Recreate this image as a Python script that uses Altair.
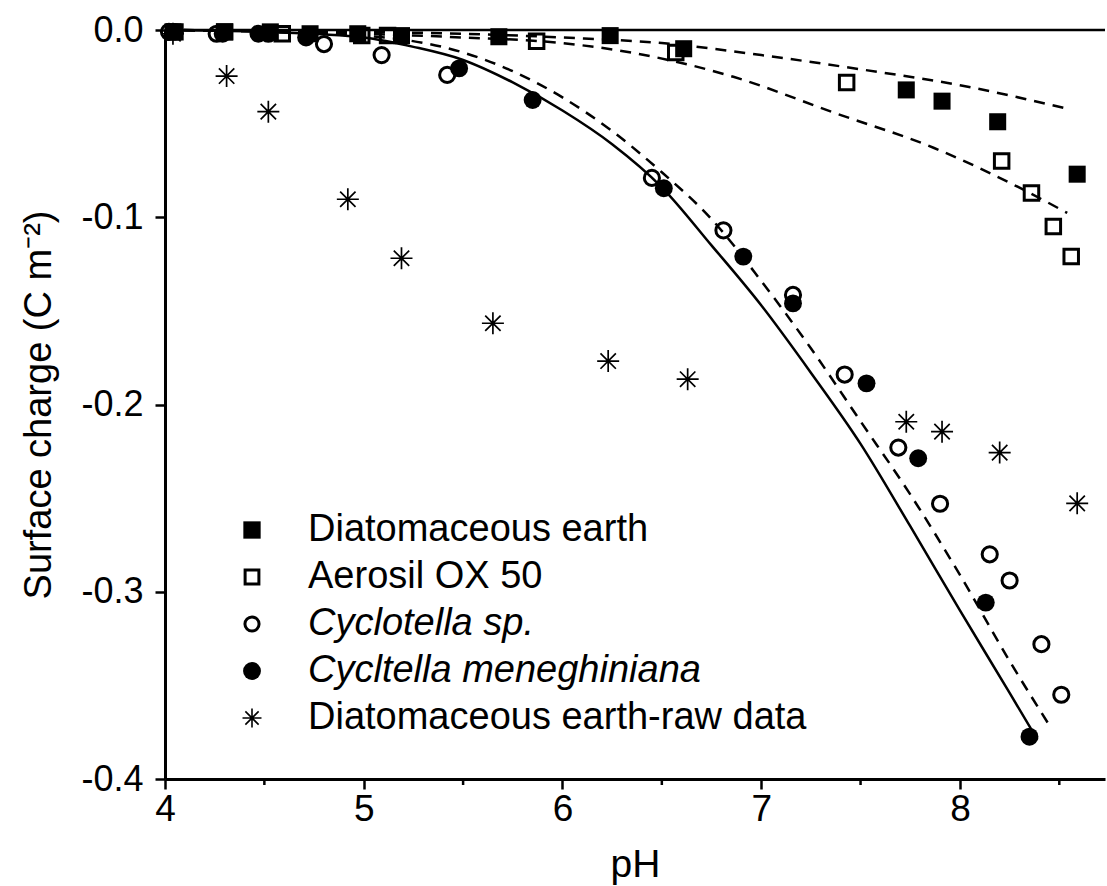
import altair as alt
import pandas as pd

# ---------------- data ----------------
de_ph = [4.04, 4.30, 4.53, 4.73, 4.97, 5.19, 5.68, 6.24, 6.61, 7.73, 7.91, 8.19, 8.59]
de_q = [-0.001, -0.001, -0.001, -0.002, -0.002, -0.003, -0.0036, -0.003, -0.010, -0.032, -0.038, -0.049, -0.077]

aero_ph = [4.05, 4.30, 4.59, 4.99, 5.12, 5.87, 6.57, 7.43, 8.21, 8.36, 8.47, 8.56]
aero_q = [-0.001, -0.001, -0.002, -0.003, -0.003, -0.006, -0.012, -0.028, -0.070, -0.087, -0.105, -0.121]

cyc_ph = [4.02, 4.26, 4.52, 4.80, 5.09, 5.42, 6.45, 6.81, 7.16, 7.42, 7.69, 7.90, 8.15, 8.25, 8.41, 8.51]
cyc_q = [-0.001, -0.002, -0.002, -0.0075, -0.0134, -0.024, -0.079, -0.107, -0.1415, -0.184, -0.223, -0.253, -0.280, -0.294, -0.328, -0.355]

men_ph = [4.05, 4.29, 4.47, 4.71, 5.48, 5.85, 6.51, 6.91, 7.16, 7.53, 7.79, 8.13, 8.35]
men_q = [-0.001, -0.002, -0.002, -0.004, -0.0205, -0.0374, -0.0845, -0.121, -0.146, -0.1887, -0.2287, -0.3058, -0.3774]

raw_ph = [4.04, 4.31, 4.52, 4.92, 5.19, 5.65, 6.23, 6.63, 7.73, 7.91, 8.20, 8.59]
raw_q = [-0.002, -0.0246, -0.0436, -0.0904, -0.1219, -0.1566, -0.1768, -0.1865, -0.2092, -0.2145, -0.2257, -0.2528]

# model curves
fit_de_ph = [4.0, 5.0, 5.5, 6.0, 6.5, 7.0, 7.5, 8.0, 8.54]
fit_de_q = [0.0, -0.001, -0.002, -0.004, -0.007, -0.0134, -0.021, -0.0295, -0.042]

fit_aero_ph = [4.0, 4.5, 5.0, 5.5, 6.0, 6.36, 6.86, 7.37, 7.87, 8.29, 8.54]
fit_aero_q = [0.0, -0.0005, -0.002, -0.004, -0.007, -0.0123, -0.025, -0.0443, -0.063, -0.0837, -0.0977]

fit_men_ph = [4.0, 4.5, 5.0, 5.25, 5.5, 5.75, 6.0, 6.25, 6.5, 6.75, 7.0, 7.25, 7.5, 7.75, 8.0, 8.25, 8.39]
fit_men_q = [0.0, -0.001, -0.004, -0.009, -0.016, -0.028, -0.043, -0.061, -0.084, -0.115, -0.147, -0.183, -0.221, -0.265, -0.310, -0.354, -0.379]

fit_cyc_ph = [4.0, 4.5, 5.0, 5.5, 5.75, 6.0, 6.25, 6.5, 6.75, 7.0, 7.25, 7.5, 7.75, 8.0, 8.25, 8.46]
fit_cyc_q = [0.0, -0.001, -0.003, -0.012, -0.022, -0.036, -0.054, -0.076, -0.101, -0.134, -0.170, -0.209, -0.248, -0.291, -0.337, -0.373]

x_ticks = [4, 5, 6, 7, 8]
x_minor = [4.5, 5.5, 6.5, 7.5, 8.5]
y_ticks = [0.0, -0.1, -0.2, -0.3, -0.4]

legend_labels = ["Diatomaceous earth", "Aerosil OX 50", "Cyclotella sp.",
                 "Cycltella meneghiniana", "Diatomaceous earth-raw data"]
legend_italic = [False, False, True, True, False]

# ---------------- styling ----------------
FONT = "Liberation Sans"
W, H = 940, 749
ASTERISK = "M-1,0L1,0M0,-1L0,1M-0.7,-0.7L0.7,0.7M-0.7,0.7L0.7,-0.7"

xs = alt.Scale(domain=[4.0, 8.73], nice=False, zero=False)
ys = alt.Scale(domain=[-0.4, 0.0], nice=False, zero=False)

x_axis = alt.Axis(
    title="pH", values=x_ticks, format="d", grid=False,
    tickSize=10, tickWidth=2.5, tickColor="black",
    domainWidth=3, domainColor="black",
    labelFont=FONT, labelFontSize=37, labelColor="black", labelPadding=2,
    labelFlush=False, labelOverlap=False, labelBound=False,
    titleFont=FONT, titleFontSize=39, titleFontWeight="normal",
    titleColor="black", titlePadding=18,
)
y_axis = alt.Axis(
    title="Surface charge (C m⁻²)", values=y_ticks, grid=False,
    labelExpr="datum.value == 0 ? '0.0' : '-' + format(abs(datum.value), '.1f')",
    tickSize=10, tickWidth=2.5, tickColor="black",
    domainWidth=3, domainColor="black",
    labelFont=FONT, labelFontSize=36, labelColor="black", labelPadding=12,
    labelFlush=False, labelOverlap=False, labelBound=False,
    titleFont=FONT, titleFontSize=38, titleFontWeight="normal",
    titleColor="black", titlePadding=22,
)

X = alt.X("pH:Q", scale=xs, axis=x_axis)
Y = alt.Y("q:Q", scale=ys, axis=y_axis)


def df(ph, q):
    return pd.DataFrame({"pH": ph, "q": q})


def line(ph, q, dashed):
    kw = dict(color="black", strokeWidth=2.5, interpolate="monotone")
    if dashed:
        kw["strokeDash"] = [11, 8]
    return alt.Chart(df(ph, q)).mark_line(**kw).encode(x=X, y=Y)


def points(ph, q, shape, size, filled, sw=2.5):
    if filled:
        m = alt.Chart(df(ph, q)).mark_point(shape=shape, size=size, filled=True,
                                             color="black", opacity=1)
    else:
        m = alt.Chart(df(ph, q)).mark_point(shape=shape, size=size, filled=False,
                                             color="black", strokeWidth=sw, opacity=1)
    return m.encode(x=X, y=Y)


top_line = alt.Chart(pd.DataFrame({"q": [0.0]})).mark_rule(
    color="black", strokeWidth=2.5).encode(y=Y)

minor = alt.Chart(pd.DataFrame({"pH": x_minor})).mark_rule(
    color="black", strokeWidth=2.5).encode(
    x=X, y=alt.value(H), y2=alt.value(H + 6))

layers = [
    top_line, minor,
    line(fit_de_ph, fit_de_q, True),
    line(fit_aero_ph, fit_aero_q, True),
    line(fit_men_ph, fit_men_q, False),
    line(fit_cyc_ph, fit_cyc_q, True),
    points(raw_ph, raw_q, ASTERISK, 484, False, 1.7),
    points(aero_ph, aero_q, "square", 210, False, 3),
    points(de_ph, de_q, "square", 290, True),
    points(cyc_ph, cyc_q, "circle", 230, False, 3),
    points(men_ph, men_q, "circle", 320, True),
]

# ---------------- legend (inside the plot, lower left) ----------------
leg_shapes = ["square", "square", "circle", "circle", ASTERISK]
leg_filled = [True, False, False, True, False]
leg_sizes = [300, 190, 200, 320, 360]
one = pd.DataFrame({"a": [0]})
for i, lab in enumerate(legend_labels):
    yy = 500 + 47 * i
    if leg_filled[i]:
        sym = alt.Chart(one).mark_point(shape=leg_shapes[i], size=leg_sizes[i],
                                        filled=True, color="black", opacity=1)
    else:
        sym = alt.Chart(one).mark_point(shape=leg_shapes[i], size=leg_sizes[i],
                                        filled=False, color="black", opacity=1,
                                        strokeWidth=1.6 if i == 4 else 3)
    layers.append(sym.encode(x=alt.value(87), y=alt.value(yy)))
    layers.append(
        alt.Chart(one).mark_text(
            text=lab, font=FONT, fontSize=38, align="left", baseline="middle",
            fontStyle="italic" if legend_italic[i] else "normal", color="black"
        ).encode(x=alt.value(143), y=alt.value(yy))
    )

chart = alt.layer(*layers).properties(
    width=W, height=H,
    padding={"left": 165, "top": 30, "right": 2, "bottom": 107},
    autosize="none",
    background="white",
).configure_view(stroke=None)

chart.save("out.html", embed_options={"renderer": "svg", "actions": False})
